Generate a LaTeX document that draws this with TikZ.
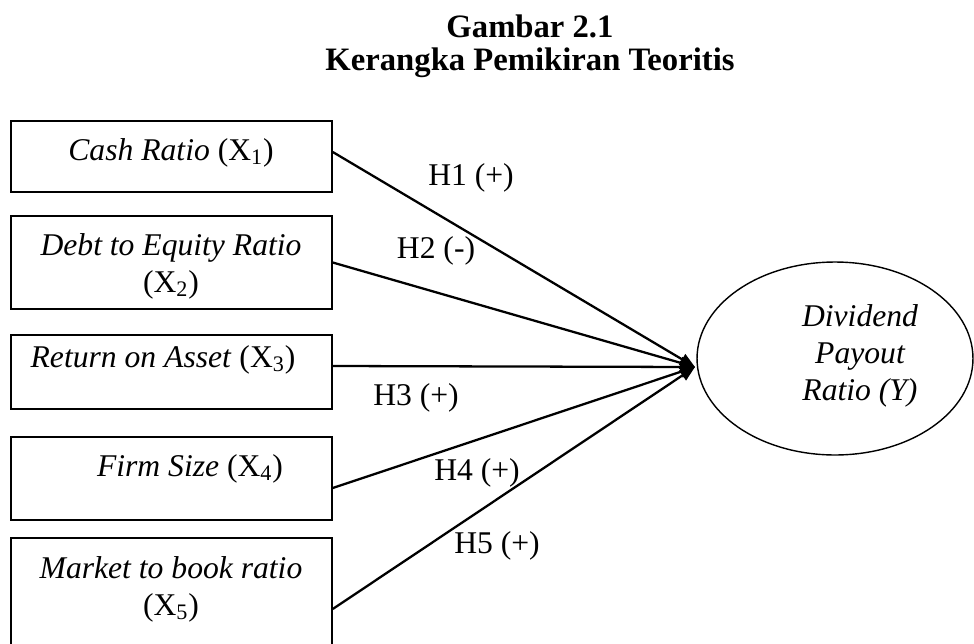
\documentclass[tikz,border=0pt]{standalone}
\usepackage{fontspec}
\setmainfont{Liberation Serif}
\usetikzlibrary{arrows.meta,shapes.geometric}

\begin{document}
\begin{tikzpicture}[x=0.02cm,y=-0.02cm,
  varbox/.style={draw,line width=0.9pt,minimum width=6.42cm,inner sep=0pt},
  vartext/.style={anchor=base,align=center,font=\fontsize{18}{21}\selectfont},
  link/.style={line width=1.3pt,-{Triangle[length=0.3cm,width=0.24cm]}}]

\clip (0,0) rectangle (974,643);

\node (T) at (530,70) [anchor=base,align=center,font=\bfseries\fontsize{18.6}{18.7}\selectfont] {Gambar 2.1\\Kerangka Pemikiran Teoritis};

\node (X1) at (171.5,156.5) [varbox,minimum height=1.42cm] {};
\node (X2) at (171.5,262.5) [varbox,minimum height=1.86cm] {};
\node (X3) at (171.5,372) [varbox,minimum height=1.48cm] {};
\node (X4) at (171.5,478.5) [varbox,minimum height=1.66cm] {};
\node (X5) at (171.5,603) [varbox,minimum height=2.6cm] {};

\node (L1) at (171,160) [vartext] {\textit{Cash Ratio} (X\textsubscript{1})};
\node (L2) at (171,292) [vartext] {\textit{Debt to Equity Ratio}\\(X\textsubscript{2})};
\node (L3) at (163,367) [vartext] {\textit{Return on Asset} (X\textsubscript{3})};
\node (L4) at (190,476) [vartext] {\textit{Firm Size} (X\textsubscript{4})};
\node (L5) at (171,615) [vartext] {\textit{Market to book ratio}\\(X\textsubscript{5})};

\node (Y) at (835,358.5) [draw,ellipse,line width=0.8pt,minimum width=5.52cm,minimum height=3.86cm,inner sep=0pt] {};
\node (LY) at (860,400) [vartext,font=\itshape\fontsize{18}{21}\selectfont] {Dividend\\Payout\\Ratio (Y)};
\coordinate (tip) at (695,367);

\draw [link] ([yshift=0.09cm]X1.east) -- (tip);
\draw [link] (X2.east) -- (tip);
\draw [link] ([yshift=0.12cm]X3.east) -- (tip);
\draw [link] ([yshift=-0.19cm]X4.east) -- (tip);
\draw [link] ([yshift=-0.12cm]X5.east) -- (tip);

\node (H1) at (471,185) [vartext] {H1 (+)};
\node (H2) at (436,258) [vartext] {H2 (-)};
\node (H3) at (416,405) [vartext] {H3 (+)};
\node (H4) at (477,480) [vartext] {H4 (+)};
\node (H5) at (497,553) [vartext] {H5 (+)};

\end{tikzpicture}
\end{document}
